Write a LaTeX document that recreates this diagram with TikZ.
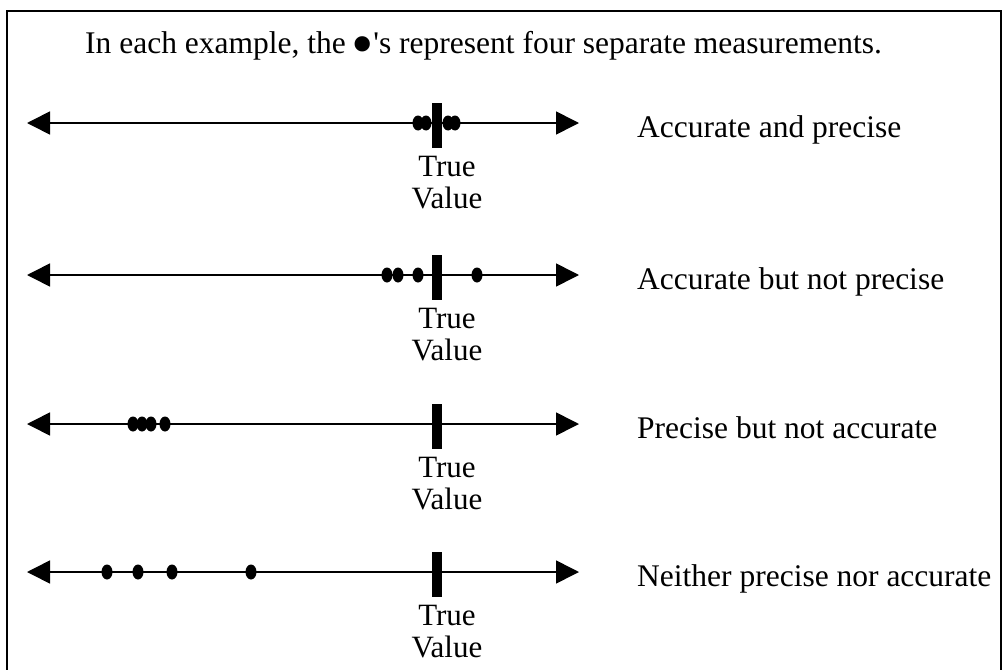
\documentclass[tikz,border=0pt]{standalone}
\usepackage{fontspec}
\setmainfont{Liberation Serif}
\newfontfamily\plainfont{Liberation Serif}
\usetikzlibrary{arrows.meta,shapes.geometric}
\tikzset{
  txt/.style={font=\fontsize{31.5}{32}\selectfont, inner sep=0pt},
  axis/.style={line width=1.6pt, {Triangle[length=23pt,width=23pt]}-{Triangle[length=23pt,width=23pt]}},
  meas/.style={ellipse, fill=black, minimum width=11pt, minimum height=15pt, inner sep=0pt},
  truebar/.style={rectangle, fill=black, minimum width=10pt, minimum height=45pt, inner sep=0pt},
  tv/.style={font=\fontsize{31}{32}\selectfont, inner sep=0pt, align=center},
  kind/.style={txt, anchor=base west},
}
\begin{document}
\begin{tikzpicture}[x=1pt,y=-1pt]
\useasboundingbox (0,0) rectangle (1003,669);
\draw[line width=2pt] (7,680) -- (7,11) -- (1001,11) -- (1001,680);

\node[txt, anchor=base west] (title) at (85,53) {In each example, the\,\raisebox{-13pt}{\fontsize{64}{64}\selectfont •}{\plainfont '}s represent four separate measurements.};

% line 1
\coordinate (a1) at (27,123); \coordinate (b1) at (579,123);
\draw[axis] (a1) -- (b1);
\node[truebar] (t1) at (437,125.5) {};
\foreach \x [count=\i] in {418,426,448,455} \node[meas] (d1\i) at (\x,123) {};
\node[tv] (v1) at (447,183) {True\\Value};
\node[kind] (k1) at (637,137) {Accurate and precise};

% line 2
\coordinate (a2) at (27,275); \coordinate (b2) at (579,275);
\draw[axis] (a2) -- (b2);
\node[truebar] (t2) at (437,277.5) {};
\foreach \x [count=\i] in {387,398,418,477} \node[meas] (d2\i) at (\x,275) {};
\node[tv] (v2) at (447,335) {True\\Value};
\node[kind] (k2) at (637,289) {Accurate but not precise};

% line 3
\coordinate (a3) at (27,424); \coordinate (b3) at (579,424);
\draw[axis] (a3) -- (b3);
\node[truebar] (t3) at (437,426.5) {};
\foreach \x [count=\i] in {133,142,151,165} \node[meas] (d3\i) at (\x,424) {};
\node[tv] (v3) at (447,484) {True\\Value};
\node[kind] (k3) at (637,438) {Precise but not accurate};

% line 4
\coordinate (a4) at (27,572); \coordinate (b4) at (579,572);
\draw[axis] (a4) -- (b4);
\node[truebar] (t4) at (437,574.5) {};
\foreach \x [count=\i] in {107,138,172,251} \node[meas] (d4\i) at (\x,572) {};
\node[tv] (v4) at (447,632) {True\\Value};
\node[kind] (k4) at (637,586) {Neither precise nor accurate};
\end{tikzpicture}
\end{document}
